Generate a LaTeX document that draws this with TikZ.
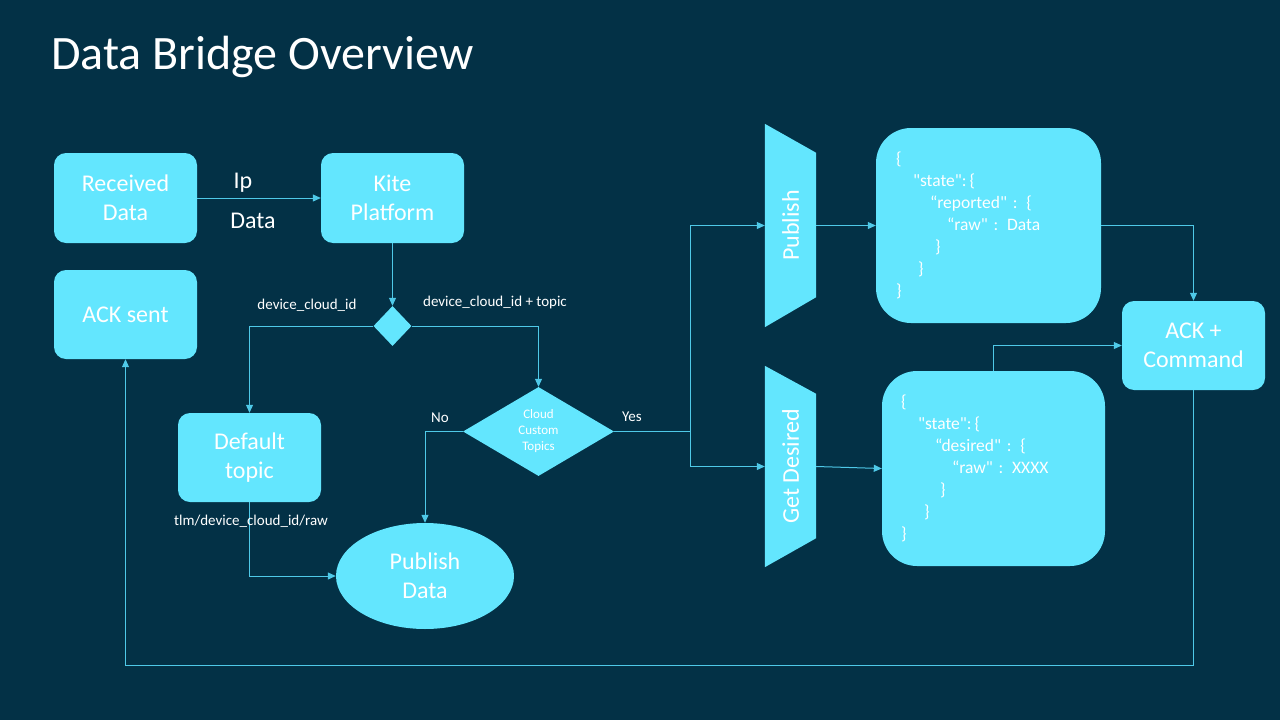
\documentclass[tikz,border=0pt]{standalone}
\usepackage{fontspec}
\setmainfont{Carlito}
\newfontfamily\jsonfont{Carlito}[Ligatures=TeXOff]
\usetikzlibrary{shapes.geometric,arrows.meta,calc}
\definecolor{bg}{RGB}{3,49,70}
\definecolor{nodefill}{RGB}{99,230,254}
\definecolor{linec}{RGB}{79,201,232}
\begin{document}
\begin{tikzpicture}[x=1pt,y=-1pt,
  box/.style={fill=nodefill, rounded corners=12pt, minimum width=143pt, minimum height=89pt, inner sep=0pt, text=white, align=center, font=\fontsize{24}{29}\selectfont},
  jbox/.style={fill=nodefill, rounded corners=35pt, minimum height=195pt, inner ysep=0pt, text=white, align=left, font=\jsonfont\fontsize{17.5}{22}\selectfont},
  trap/.style={minimum width=51pt, inner sep=0pt},
  traptext/.style={rotate=90, text=white, font=\fontsize{24}{29}\selectfont, inner sep=0pt},
  arr/.style={draw=linec, line width=1pt, -{Triangle[length=8pt,width=7pt]}},
  ln/.style={draw=linec, line width=1pt},
  lbl/.style={text=white, font=\fontsize{15}{18}\selectfont, inner sep=0pt},
  biglbl/.style={text=white, font=\fontsize{24}{29}\selectfont, inner sep=0pt},
]
\useasboundingbox (0,0) rectangle (1280,720);
\fill[bg] (0,0) rectangle (1280,720);

% title
\node[anchor=base west, text=white, font=\fontsize{48}{58}\selectfont, inner sep=0pt] (title) at (51,69) {Data Bridge Overview};

% boxes
\node[box, minimum height=90pt] (rd) at (125.5,198) {Received\\Data};
\node[box, minimum height=90pt] (kp) at (392.5,198) {Kite\\Platform};
\node[box] (as) at (125.5,314.5) {ACK sent};
\node[box] (dt) at (249.5,457.5) {Default\\topic};
\node[box] (ack) at (1193.5,345.5) {ACK +\\Command};

% diamonds
\node[diamond, fill=nodefill, minimum width=38pt, minimum height=40pt, inner sep=0pt] (sd) at (392.5,326) {};
\node[diamond, fill=nodefill, minimum width=151pt, minimum height=89pt, inner sep=0pt] (bd) at (538.5,431.5) {};
\node[text=white, align=center, font=\fontsize{13}{16}\selectfont, inner sep=0pt] (bdt) at (bd) {Cloud\\Custom\\Topics};

% ellipse
\node[ellipse, fill=nodefill, minimum width=178pt, minimum height=106pt, inner sep=0pt, text=white, align=center, font=\fontsize{24}{29}\selectfont] (pd) at (425,576) {Publish\\Data};

% trapezoids
\node[trap, minimum height=203pt] (pub) at (790.5,225.5) {};
\node[trap, minimum height=201pt] (gd) at (790.5,466.5) {};
\fill[nodefill] (pub.north west) -- ($(pub.north east)+(0,29)$) -- ($(pub.south east)+(0,-30)$) -- (pub.south west) -- cycle;
\fill[nodefill] (gd.north west) -- ($(gd.north east)+(0,28)$) -- ($(gd.south east)+(0,-29)$) -- (gd.south west) -- cycle;
\node[traptext] (pubt) at (pub) {Publish};
\node[traptext] (gdt) at (gd) {Get Desired};

% JSON boxes
\node[jbox, text width=185pt, inner xsep=20pt] (j1) at (988.5,225.5) {%
\{\\
\hspace*{17pt}"state":\,\{\\
\hspace*{34pt}“reported" : \{\\
\hspace*{51pt}“raw" : Data\\
\hspace*{39pt}\}\\
\hspace*{22pt}\}\\
\}};
\node[jbox, text width=185pt, inner xsep=19pt] (j2) at (993.5,468.5) {%
\{\\
\hspace*{17pt}"state":\,\{\\
\hspace*{34pt}“desired" : \{\\
\hspace*{51pt}“raw" : XXXX\\
\hspace*{39pt}\}\\
\hspace*{23pt}\}\\
\}};

% connectors
\draw[arr] (rd.east) -- (kp.west);
\draw[arr] (kp.south) -- (sd.north);
\draw[arr] (sd.west) -| (dt.north);
\draw[arr] (sd.east) -| (bd.north);
\draw[arr] (bd.west) -| (pd.north);
\draw[arr] (dt.south) |- (pd.west);
\coordinate (jn) at (690,431.5);
\draw[ln] (bd.east) -- (jn);
\draw[arr] (jn) |- (pub.west);
\draw[arr] (jn) |- (gd.west);
\draw[arr] (pub.east) -- (j1.west);
\draw[arr] (gd.east) -- (j2.west);
\draw[arr] (j1.east) -| (ack.north);
\draw[arr] (j2.north) |- (ack.west);
\draw[arr] (ack.south) -- ++(0,275) -| (as.south);

% labels
\node[biglbl] (lip) at (243,183) {Ip};
\node[biglbl] (ldata) at (253,221) {Data};
\node[lbl] (lid) at (307,305) {device\_cloud\_id};
\node[lbl] (lidt) at (495,302) {device\_cloud\_id + topic};
\node[lbl] (lno) at (440,418) {No};
\node[lbl] (lyes) at (632,417) {Yes};
\node[lbl] (ltlm) at (251,521) {tlm/device\_cloud\_id/raw};
\end{tikzpicture}
\end{document}
